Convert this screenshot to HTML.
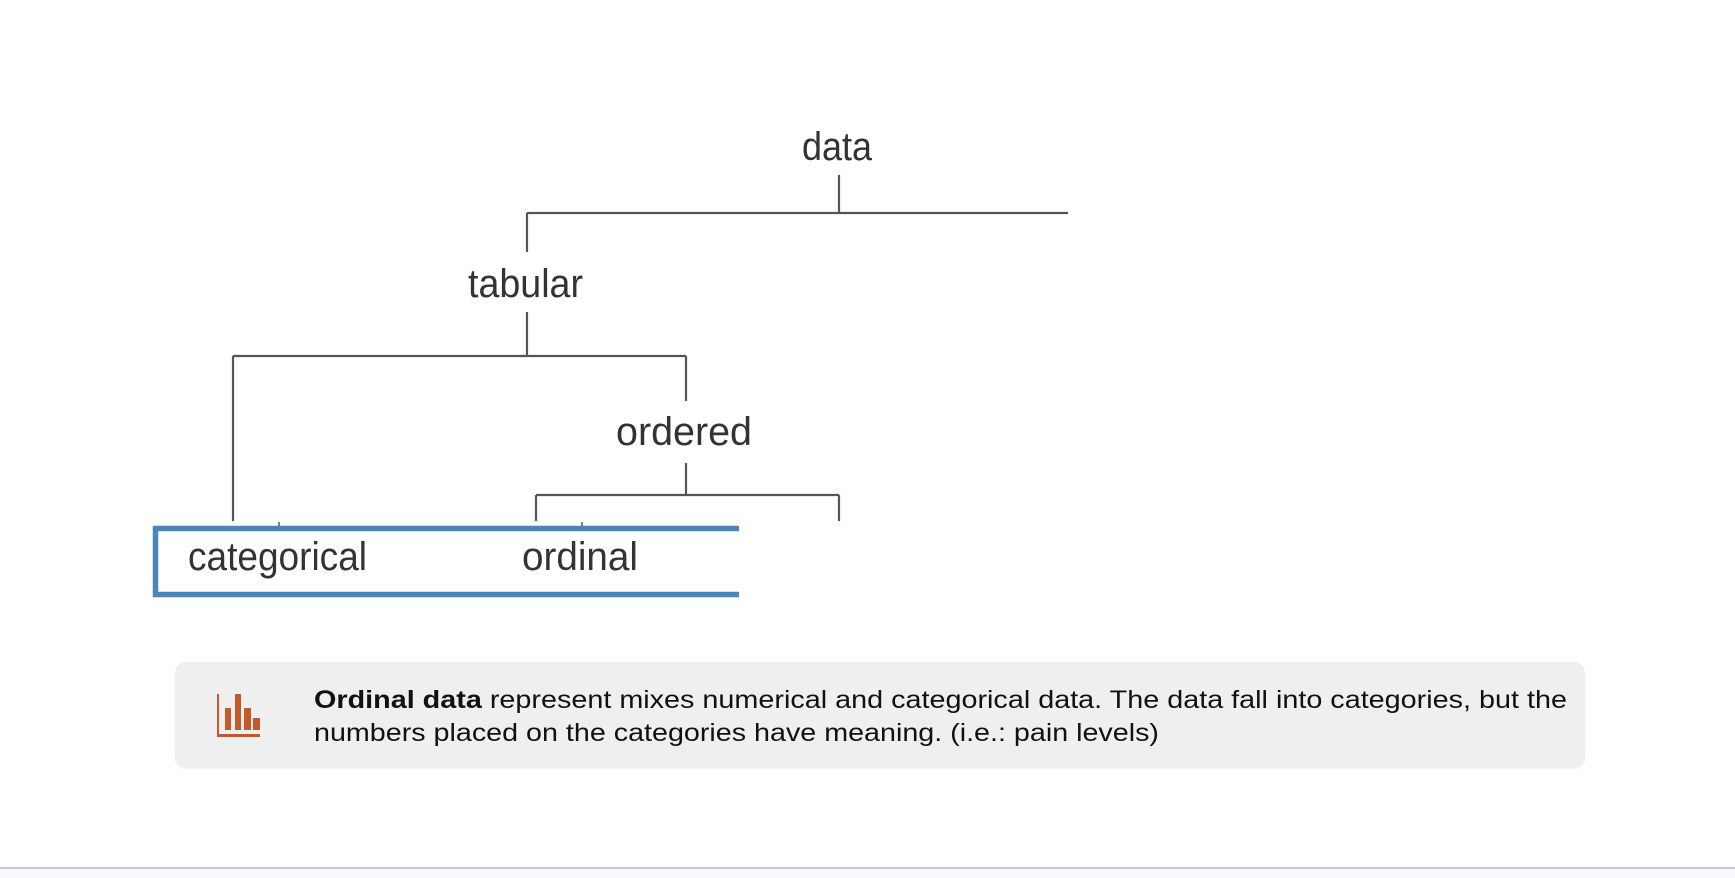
<!DOCTYPE html>
<html><head><meta charset="utf-8"><style>
html,body{margin:0;padding:0;background:#fff;}
body{width:1735px;height:878px;overflow:hidden;position:relative;}
svg{position:absolute;left:0;top:0;}
</style></head><body>
<svg width="1735" height="878" viewBox="0 0 1735 878">
  <rect x="0" y="869" width="1735" height="9" fill="#f7f9fc"/>
  <line x1="0" y1="868" x2="1735" y2="868" stroke="#c4c8cc" stroke-width="2"/>

  <g stroke="#555" stroke-width="2.2" fill="none">
    <path d="M839 175 V213 M527 213 H1068 M527 213 V252"/>
    <path d="M527 312 V356 M233 356 H686 M233 356 V521 M686 356 V401"/>
    <path d="M686 463 V495 M536 495 H839 M536 495 V521 M839 495 V521"/>
    <path d="M279 522 V527 M582 522 V527" stroke-width="1.5"/>
  </g>

  <g font-family="'Liberation Sans', sans-serif" font-size="40" fill="#333">
    <text x="802" y="160" textLength="70" lengthAdjust="spacingAndGlyphs">data</text>
    <text x="468" y="297" textLength="115" lengthAdjust="spacingAndGlyphs">tabular</text>
    <text x="616" y="445" textLength="136" lengthAdjust="spacingAndGlyphs">ordered</text>
    <text x="188" y="570" textLength="179" lengthAdjust="spacingAndGlyphs">categorical</text>
    <text x="522" y="570" textLength="116" lengthAdjust="spacingAndGlyphs">ordinal</text>
  </g>

  <path d="M739 528.5 H155.5 V594.5 H739" fill="none" stroke="#4a86bb" stroke-width="5.5"/>

  <rect x="175" y="662" width="1410" height="107" rx="11" fill="#efefef"/>
  <g fill="#c55a28">
    <rect x="217" y="694" width="2" height="43"/>
    <rect x="217" y="734" width="43" height="3"/>
    <rect x="225" y="708" width="6" height="22"/>
    <rect x="235" y="694" width="6" height="36"/>
    <rect x="244" y="708" width="7" height="22"/>
    <rect x="253" y="718" width="7" height="12"/>
  </g>
  <g font-family="'Liberation Sans', sans-serif" font-size="25" fill="#111">
    <text x="314" y="708" textLength="1253" lengthAdjust="spacingAndGlyphs"><tspan font-weight="bold">Ordinal data</tspan> represent mixes numerical and categorical data. The data fall into categories, but the</text>
    <text x="314" y="741" textLength="845" lengthAdjust="spacingAndGlyphs">numbers placed on the categories have meaning. (i.e.: pain levels)</text>
  </g>
</svg>
</body></html>
